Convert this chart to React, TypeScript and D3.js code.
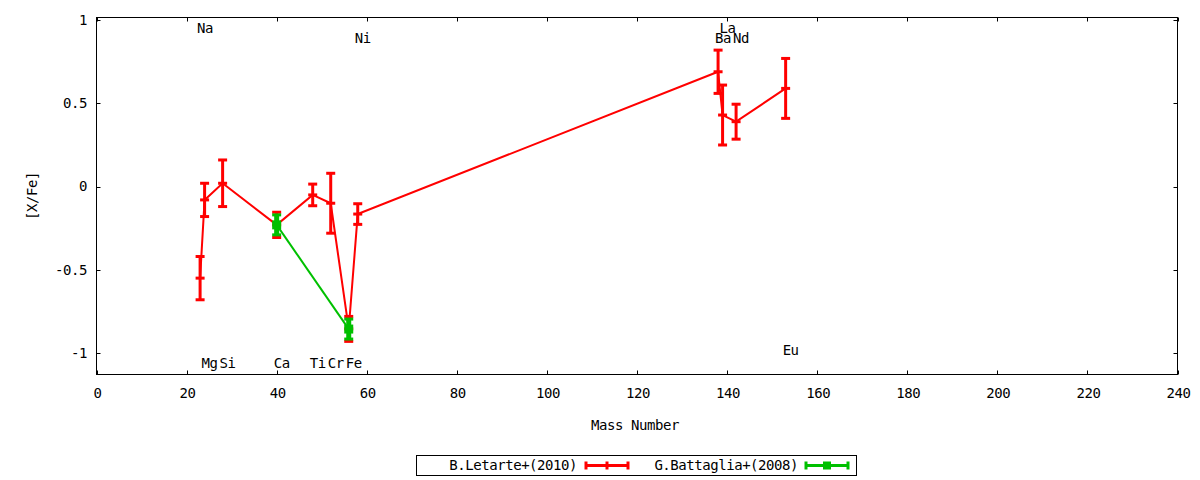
import { useEffect, useRef } from "react";
import * as d3 from "d3";

// B.Letarte+(2010)
const letarteMass = [23, 24, 28, 40, 48, 52, 56, 58, 138, 139, 142, 153];
const letarteValue = [-0.55, -0.08, 0.02, -0.23, -0.05, -0.1, -0.855, -0.165, 0.69, 0.43, 0.39, 0.59];
const letarteError = [0.13, 0.1, 0.14, 0.076, 0.065, 0.18, 0.075, 0.062, 0.13, 0.18, 0.105, 0.18];

// G.Battaglia+(2008)
const battagliaMass = [40, 56];
const battagliaValue = [-0.23, -0.856];
const battagliaError = [0.06, 0.06];

// element labels
const elementNames = ["Na", "Mg", "Si", "Ca", "Ti", "Cr", "Fe", "Ni", "Ba", "La", "Nd", "Eu"];
const elementMass = [23, 24, 28, 40, 48, 52, 56, 58, 138, 139, 142, 153];
const elementLabelY = [0.955, -1.06, -1.06, -1.06, -1.06, -1.06, -1.06, 0.895, 0.895, 0.955, 0.895, -0.98];

const xTicks = [0, 20, 40, 60, 80, 100, 120, 140, 160, 180, 200, 220, 240];
const yTicks = [-1, -0.5, 0, 0.5, 1];

const seriesNames = ["B.Letarte+(2010)", "G.Battaglia+(2008)"];

export default function App() {
    const svgRef = useRef<SVGSVGElement | null>(null);

    useEffect(() => {
        if (!svgRef.current) return;
        const root = d3.select(svgRef.current);
        root.selectAll("*").remove();

        const font = "'DejaVu Sans Mono', monospace";
        const fontSize = "14px";
        const spacing = "-0.45px";
        const left = 96.5, right = 1177.5, top = 17.5, bottom = 374.5;

        const x = d3.scaleLinear().domain([0, 240]).range([left, right]);
        const y = d3.scaleLinear().domain([-1.129, 1.016]).range([bottom, top]);

        const svg = root.append("g");

        const addText = (g: any, px: number, py: number, str: string, anchor = "start") =>
            g.append("text")
                .attr("x", px)
                .attr("y", py)
                .attr("dy", "0.35em")
                .attr("text-anchor", anchor)
                .attr("font-family", font)
                .attr("font-size", fontSize)
                .attr("letter-spacing", spacing)
                .attr("fill", "#000")
                .text(str);

        // frame
        svg.append("rect")
            .attr("x", left)
            .attr("y", top)
            .attr("width", right - left)
            .attr("height", bottom - top)
            .attr("fill", "none")
            .attr("stroke", "#000")
            .attr("stroke-width", 1);

        const tl = 4;
        // x ticks (mirrored)
        xTicks.forEach((t) => {
            const px = Math.round(x(t)) + 0.5;
            svg.append("line").attr("x1", px).attr("x2", px).attr("y1", bottom).attr("y2", bottom - tl).attr("stroke", "#000");
            svg.append("line").attr("x1", px).attr("x2", px).attr("y1", top).attr("y2", top + tl).attr("stroke", "#000");
            addText(svg, x(t) + 1, 393, d3.format("d")(t), "middle");
        });

        // y ticks (mirrored)
        yTicks.forEach((t) => {
            const py = Math.round(y(t)) + 0.5;
            svg.append("line").attr("x1", left).attr("x2", left + tl).attr("y1", py).attr("y2", py).attr("stroke", "#000");
            svg.append("line").attr("x1", right).attr("x2", right - tl).attr("y1", py).attr("y2", py).attr("stroke", "#000");
            addText(svg, 87, y(t), t === 0 ? "0" : String(t), "end");
        });

        // axis titles
        addText(svg, 635, 425, "Mass Number", "middle");
        svg.append("text")
            .attr("transform", "translate(32,196) rotate(-90)")
            .attr("dy", "0.35em")
            .attr("text-anchor", "middle")
            .attr("font-family", font)
            .attr("font-size", fontSize)
            .attr("letter-spacing", spacing)
            .text("[X/Fe]");

        // element labels
        elementNames.forEach((name, i) => {
            addText(svg, x(elementMass[i]) - 3, y(elementLabelY[i]), name);
        });

        const drawSeries = (
            mass: number[],
            value: number[],
            err: number[],
            color: string,
            barWidth: number,
            square: boolean
        ) => {
            const pts = mass.map((m, i) => [x(m), y(value[i])] as [number, number]);
            svg.append("path")
                .attr("d", d3.line()(pts))
                .attr("fill", "none")
                .attr("stroke", color)
                .attr("stroke-width", 2);
            const g = svg.append("g");
            mass.forEach((m, i) => {
                const cx = x(m);
                const y1 = y(value[i] + err[i]);
                const y2 = y(value[i] - err[i]);
                g.append("line").attr("x1", cx).attr("x2", cx).attr("y1", y1).attr("y2", y2)
                    .attr("stroke", color).attr("stroke-width", barWidth);
                [y1, y2].forEach((yy) => {
                    g.append("line").attr("x1", cx - 4.5).attr("x2", cx + 4.5).attr("y1", yy).attr("y2", yy)
                        .attr("stroke", color).attr("stroke-width", 3);
                });
                if (square) {
                    g.append("rect").attr("x", cx - 4.5).attr("y", y(value[i]) - 4.5).attr("width", 9).attr("height", 9)
                        .attr("fill", color);
                } else {
                    g.append("line").attr("x1", cx - 4.5).attr("x2", cx + 4.5).attr("y1", y(value[i])).attr("y2", y(value[i]))
                        .attr("stroke", color).attr("stroke-width", 3);
                }
            });
        };

        drawSeries(letarteMass, letarteValue, letarteError, "#ff0000", 3, false);
        drawSeries(battagliaMass, battagliaValue, battagliaError, "#00c000", 5, true);

        // legend
        const lg = svg.append("g");
        lg.append("rect")
            .attr("x", 416.5)
            .attr("y", 455.5)
            .attr("width", 440)
            .attr("height", 20)
            .attr("fill", "none")
            .attr("stroke", "#000");
        const legendItems = [
            { name: seriesNames[0], textEnd: 577, x1: 585, x2: 629, color: "#ff0000", square: false },
            { name: seriesNames[1], textEnd: 798, x1: 805, x2: 849, color: "#00c000", square: true },
        ];
        legendItems.forEach((d) => {
            const ly = 465.5;
            addText(lg, d.textEnd, ly, d.name, "end");
            lg.append("line").attr("x1", d.x1).attr("x2", d.x2).attr("y1", ly).attr("y2", ly)
                .attr("stroke", d.color).attr("stroke-width", 3);
            [d.x1 + 1, d.x2 - 1].forEach((xx) => {
                lg.append("line").attr("x1", xx).attr("x2", xx).attr("y1", ly - 4).attr("y2", ly + 4)
                    .attr("stroke", d.color).attr("stroke-width", 3);
            });
            const mx = (d.x1 + d.x2) / 2;
            if (d.square) {
                lg.append("rect").attr("x", mx - 4).attr("y", ly - 4).attr("width", 8).attr("height", 8).attr("fill", d.color);
            } else {
                lg.append("line").attr("x1", mx).attr("x2", mx).attr("y1", ly - 4).attr("y2", ly + 4)
                    .attr("stroke", d.color).attr("stroke-width", 3);
            }
        });
    }, []);

    return (
        <svg
            ref={svgRef}
            width={1200}
            height={480}
            style={{ position: "absolute", left: 0, top: 0, background: "#fff" }}
        />
    );
}
